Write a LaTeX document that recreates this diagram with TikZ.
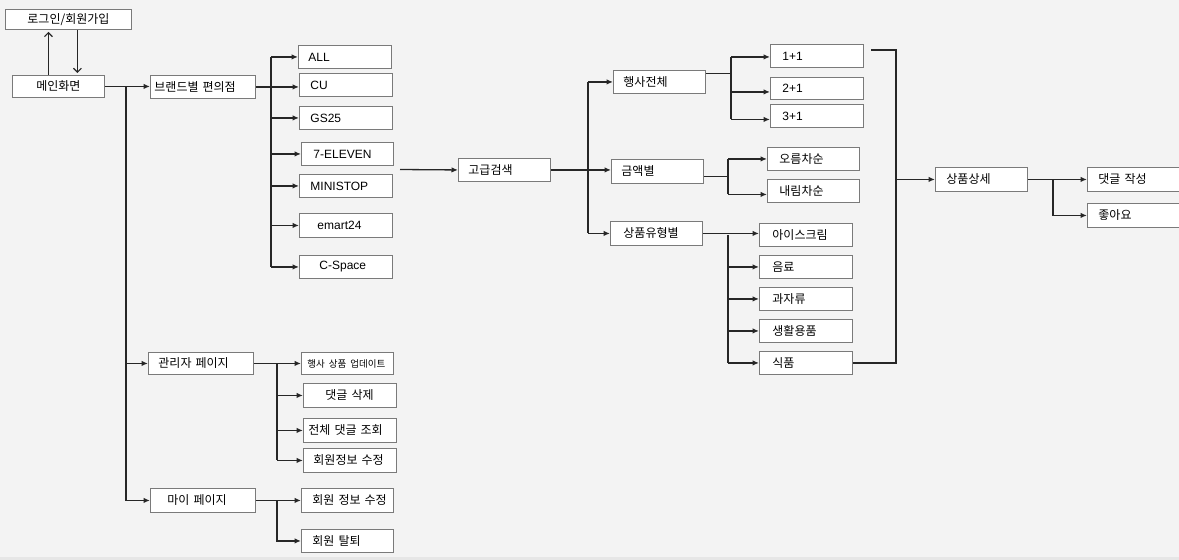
\documentclass[tikz,border=0pt]{standalone}
\usepackage{fontspec}
\setmainfont{Liberation Sans}
\newfontfamily\kr{Noto Sans CJK KR}
\usetikzlibrary{arrows.meta}
\definecolor{bgcol}{HTML}{F3F3F3}
\definecolor{stripcol}{HTML}{E6E6E6}
\definecolor{boxgray}{HTML}{7A7A7A}
\definecolor{lncol}{HTML}{262626}
\tikzset{
  bx/.style={draw=boxgray, fill=white, line width=0.9pt, inner xsep=0pt, inner ysep=0pt,
    anchor=north west, align=left, text=black, font=\fontsize{12}{13.5}\selectfont},
  ln/.style={draw=lncol, line width=1.3pt},
  arr/.style={ln, -{Latex[length=6.5pt,width=5.5pt]}},
  larr/.style={draw=lncol, line width=1.1pt, -{Straight Barb[length=4pt,width=8pt]}},
}
\begin{document}
\begin{tikzpicture}[x=1pt,y=-1pt]
\fill[bgcol] (0,0) rectangle (1179,560);
\fill[stripcol] (0,556.5) rectangle (1179,560);
\useasboundingbox (0,0) rectangle (1179,560);

% nodes
\node[bx, text width=126pt, minimum height=20pt, align=center] (login) at (5,9) {\kr 로그인/회원가입};
\node[bx, text width=92pt, minimum height=22pt, align=center] (main) at (12,75) {\kr 메인화면};
\node[bx, text width=105pt, minimum height=23pt] (brand) at (150,75) {\hspace*{4pt}\kr 브랜드별 편의점};

\node[bx, text width=93pt, minimum height=23pt] (all) at (298,45) {\hspace*{10pt}ALL};
\node[bx, text width=93pt, minimum height=23pt] (cu) at (299,73) {\hspace*{11pt}CU};
\node[bx, text width=93pt, minimum height=23pt] (gs) at (299,106) {\hspace*{11pt}GS25};
\node[bx, text width=92pt, minimum height=23pt] (seven) at (301,142) {\hspace*{12pt}7-ELEVEN};
\node[bx, text width=93pt, minimum height=23pt] (mini) at (299,174) {\hspace*{11pt}MINISTOP};
\node[bx, text width=93pt, minimum height=24pt] (emart) at (299,213) {\hspace*{18pt}emart24};
\node[bx, text width=93pt, minimum height=23pt] (cspace) at (299,255) {\hspace*{20pt}C-Space};

\node[bx, text width=105pt, minimum height=22pt] (admin) at (148,352) {\hspace*{10pt}\kr 관리자 페이지};
\node[bx, text width=105pt, minimum height=24pt] (my) at (150,488) {\hspace*{17pt}\kr 마이 페이지};

\node[bx, text width=92pt, minimum height=22pt] (upd) at (301,352) {\hspace*{6pt}\fontsize{9.5}{11}\selectfont\kr 행사 상품 업데이트};
\node[bx, text width=93pt, minimum height=24pt] (del) at (303,383) {\hspace*{22pt}\kr 댓글 삭제};
\node[bx, text width=93pt, minimum height=24pt] (allc) at (303,418) {\hspace*{5pt}\kr 전체 댓글 조회};
\node[bx, text width=93pt, minimum height=24pt] (mod) at (303,448) {\hspace*{10pt}\kr 회원정보 수정};
\node[bx, text width=92pt, minimum height=24pt] (mymod) at (301,488) {\hspace*{11pt}\kr 회원 정보 수정};
\node[bx, text width=92pt, minimum height=23pt] (quit) at (301,529) {\hspace*{11pt}\kr 회원 탈퇴};

\node[bx, text width=92pt, minimum height=23pt] (search) at (458,158) {\hspace*{10pt}\kr 고급검색};
\node[bx, text width=92pt, minimum height=23pt] (event) at (613,70) {\hspace*{10pt}\kr 행사전체};
\node[bx, text width=92pt, minimum height=24pt] (price) at (611,159) {\hspace*{10pt}\kr 금액별};
\node[bx, text width=92pt, minimum height=24pt] (type) at (610,221) {\hspace*{13pt}\kr 상품유형별};

\node[bx, text width=93pt, minimum height=23pt] (p11) at (770,44) {\hspace*{12pt}1+1};
\node[bx, text width=93pt, minimum height=22pt] (p21) at (770,77) {\hspace*{12pt}2+1};
\node[bx, text width=93pt, minimum height=23pt] (p31) at (770,104) {\hspace*{12pt}3+1};
\node[bx, text width=92pt, minimum height=23pt] (asc) at (767,147) {\hspace*{12pt}\kr 오름차순};
\node[bx, text width=92pt, minimum height=23pt] (desc) at (767,179) {\hspace*{12pt}\kr 내림차순};

\node[bx, text width=93pt, minimum height=23pt] (ice) at (759,223) {\hspace*{13pt}\kr 아이스크림};
\node[bx, text width=93pt, minimum height=23pt] (drink) at (759,255) {\hspace*{13pt}\kr 음료};
\node[bx, text width=93pt, minimum height=23pt] (snack) at (759,287) {\hspace*{13pt}\kr 과자류};
\node[bx, text width=93pt, minimum height=23pt] (living) at (759,319) {\hspace*{13pt}\kr 생활용품};
\node[bx, text width=93pt, minimum height=23pt] (food) at (759,351) {\hspace*{13pt}\kr 식품};

\node[bx, text width=92pt, minimum height=24pt] (detail) at (935,167) {\hspace*{11pt}\kr 상품상세};
\node[bx, text width=110pt, minimum height=24pt] (cmtw) at (1087,167) {\hspace*{11pt}\kr 댓글 작성};
\node[bx, text width=110pt, minimum height=24pt] (like) at (1087,203) {\hspace*{11pt}\kr 좋아요};

% login arrows
\coordinate (u1) at ([xshift=-10pt]main.north);
\draw[larr] (u1) -- ([yshift=-2pt]u1 |- login.south);
\coordinate (d1) at ([xshift=9pt]login.south);
\draw[larr] (d1) -- ([yshift=2pt]d1 |- main.north);

% main trunk
\coordinate (mt) at (126,86);
\draw[arr] (main.east) -- (main.east -| brand.west);
\draw[arr] (mt) |- (my.west);
\draw[arr] (mt |- admin.west) -- (admin.west);

% brand
\coordinate (bt) at (271,0);
\draw[arr] (brand.east) -- (brand.east -| cu.west);
\draw[ln] (bt |- all.west) -- (bt |- cspace.west);
\foreach \n in {all,gs,seven,mini,emart,cspace} \draw[arr] (bt |- \n.west) -- (\n.west);

% search
\coordinate (s0) at (400,169.5);
\draw[arr] (s0) -- (search.west);
\coordinate (st) at (588,0);
\draw[arr] (search.east) -- (search.east -| price.west);
\draw[ln] (st |- event.west) -- (st |- type.west);
\draw[arr] (st |- event.west) -- (event.west);
\draw[arr] (st |- type.west) -- (type.west);

% event
\coordinate (et) at (731,0);
\coordinate (e0) at ([yshift=8.5pt]event.east);
\coordinate (a11) at ([yshift=-1pt]p11.west);
\coordinate (a21) at ([yshift=-3.5pt]p21.west);
\coordinate (a31) at ([yshift=-3.5pt]p31.west);
\draw[ln] (e0) -- (e0 -| et);
\draw[ln] (et |- a11) -- (et |- a31);
\foreach \a in {a11,a21,a31} \draw[arr] (et |- \a) -- (\a);

% price
\coordinate (pt) at (728,0);
\coordinate (p0) at ([yshift=-5pt]price.east);
\coordinate (aasc) at (asc.west);
\coordinate (adesc) at ([yshift=-3.5pt]desc.west);
\draw[ln] (p0) -- (p0 -| pt);
\draw[ln] (pt |- aasc) -- (pt |- adesc);
\foreach \a in {aasc,adesc} \draw[arr] (pt |- \a) -- (\a);

% type
\draw[arr] (type.east) -- (type.east -| ice.west);
\draw[ln] (pt |- ice.west) -- (pt |- food.west);
\foreach \n in {drink,snack,living,food} \draw[arr] (pt |- \n.west) -- (\n.west);

% right side
\coordinate (r0) at (871,50);
\coordinate (rt) at (896,50);
\draw[ln] (r0) -- (rt) |- (food.east);
\draw[arr] (rt |- detail.west) -- (detail.west);
\draw[arr] (detail.east) -- (cmtw.west);
\coordinate (dt) at (1053,0);
\draw[arr] (dt |- detail.east) |- (like.west);

% admin
\coordinate (adt) at (277,0);
\draw[arr] (admin.east) -- (upd.west);
\draw[ln] (adt |- upd.west) -- (adt |- mod.west);
\foreach \n in {del,allc,mod} \draw[arr] (adt |- \n.west) -- (\n.west);

% my page
\draw[arr] (my.east) -- (mymod.west);
\draw[arr] (adt |- mymod.west) |- (quit.west);
\end{tikzpicture}
\end{document}
